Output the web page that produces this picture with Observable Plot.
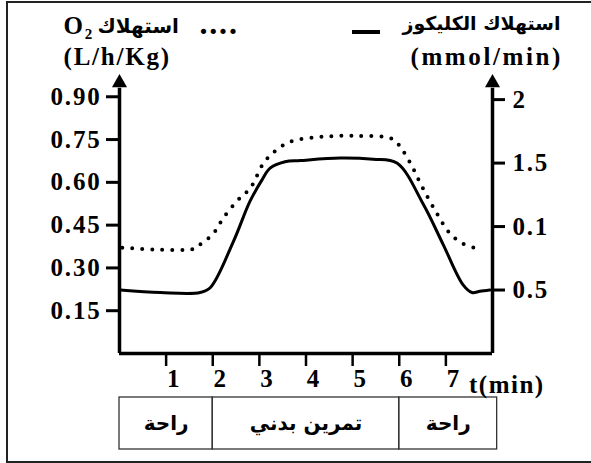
<!DOCTYPE html>
<html>
<head>
<meta charset="utf-8">
<script src="https://cdn.jsdelivr.net/npm/d3@7"></script>
<script src="https://cdn.jsdelivr.net/npm/@observablehq/plot@0.6"></script>
<style>
  html, body { margin: 0; padding: 0; background: #fff; }
  #page { position: relative; width: 591px; height: 463px; overflow: hidden; }
  #frame { position: absolute; left: 6px; top: 1px; width: 620px; height: 458px;
           border-left: 2px solid #222; border-top: 2px solid #222; border-bottom: 2px solid #222; }
  #main { position: absolute; left: 0; top: 0; }
  #phases { position: absolute; left: 0; top: 396px; }
  #swatch { position: absolute; left: 352px; top: 30px; width: 28px; height: 4px; background: #000; }
  #tlabel { position: absolute; left: 469px; top: 372px; font: bold 25px "Liberation Serif", serif;
            letter-spacing: 1.5px; line-height: 25px; color: #000; white-space: nowrap; }
</style>
</head>
<body>
<div id="page">
  <div id="frame"></div>
  <div id="phases"></div>
  <div id="main"></div>
  <div id="swatch"></div>
  <div id="tlabel"></div>
</div>
<script>
// ---- data ----
// glucose consumption (mmol/min), right axis — solid line
const glucoseT = [0.02, 0.88, 1.73, 1.95, 2.44, 2.80, 3.06, 3.23, 3.55, 3.88, 4.73, 5.44, 5.95, 6.51, 6.94, 7.37, 7.56, 7.73, 7.94];
const glucoseV = [0.50, 0.48, 0.48, 0.52, 0.88, 1.20, 1.37, 1.46, 1.51, 1.52, 1.54, 1.53, 1.50, 1.18, 0.86, 0.54, 0.48, 0.49, 0.50];
// O2 consumption (L/h/Kg), left axis — dotted line
const o2T = [0.06, 0.88, 1.63, 1.73, 2.01, 2.23, 2.53, 2.81, 3.08, 3.30, 3.66, 4.37, 5.10, 5.80, 5.95, 6.08, 6.29, 6.51, 6.81, 7.09, 7.37, 7.67, 7.79];
const o2V = [0.371, 0.364, 0.368, 0.382, 0.420, 0.476, 0.536, 0.581, 0.665, 0.704, 0.742, 0.760, 0.763, 0.756, 0.739, 0.711, 0.651, 0.578, 0.490, 0.420, 0.385, 0.368, 0.364];

const xTicks = [1, 2, 3, 4, 5, 6, 7];
const xLabel = "t(min)";
const leftTicks = [0.15, 0.30, 0.45, 0.60, 0.75, 0.90];
const leftLabels = ["0.15", "0.30", "0.45", "0.60", "0.75", "0.90"];
const rightTicks = [0.5, 1, 1.5, 2];
const rightLabels = ["0.5", "0.1", "1.5", "2"];

const phaseStart = [0, 2, 6];
const phaseEnd = [2, 6, 8.1];
const phaseNames = ["راحة", "تمرين بدني", "راحة"];

// ratio between right-axis units and left-axis units
const k = 0.445;

const glucose = glucoseT.map((t, i) => ({t, v: glucoseV[i] * k}));
const o2 = o2T.map((t, i) => ({t, v: o2V[i]}));
const phases = phaseNames.map((name, i) => ({name, x1: phaseStart[i], x2: phaseEnd[i]}));
const leftT = leftTicks.map((v, i) => ({v, label: leftLabels[i]}));
const rightT = rightTicks.map((v, i) => ({v: v * k, label: rightLabels[i]}));

const W = 591, H = 400, ML = 119, MR = 99, MT = 82, MB = 47;
const serif = "Liberation Serif, Times New Roman, DejaVu Serif, serif";
const arabic = "DejaVu Sans, sans-serif";
const tickFont = {fontSize: 25, fontWeight: "bold", fontFamily: serif, fill: "#000"};

function label(str, x, baseline, extra = {}) {
  return Plot.text([str], {
    text: d => d, frameAnchor: "top-left", dx: x - ML, dy: baseline - MT,
    lineAnchor: "bottom", textAnchor: "start", fill: "#000", fontFamily: serif, ...extra
  });
}

const main = Plot.plot({
  width: W, height: H,
  marginLeft: ML, marginRight: MR, marginTop: MT, marginBottom: MB,
  x: {domain: [0, 8]},
  y: {domain: [0, 0.95]},
  style: {background: "transparent", overflow: "visible"},
  marks: [
    Plot.axisY(leftTicks, {anchor: "left", tickSize: 13, strokeWidth: 3, tickFormat: () => "", label: null}),
    Plot.axisY(rightTicks.map(v => v * k), {anchor: "right", tickSize: 12, strokeWidth: 3, tickFormat: () => "", label: null}),
    Plot.axisX(xTicks, {anchor: "bottom", tickSize: 13, strokeWidth: 2.5, tickFormat: () => "", label: null}),
    Plot.text(leftT, {y: "v", text: "label", frameAnchor: "left", dx: -18, textAnchor: "end", ...tickFont}),
    Plot.text(rightT, {y: "v", text: "label", frameAnchor: "right", dx: 20, textAnchor: "start", ...tickFont}),
    Plot.text(xTicks, {x: d => d, text: d => String(d), frameAnchor: "bottom", dx: 8, dy: 33, ...tickFont}),
    Plot.ruleX([0, 8], {y1: 0, y2: 0.93, stroke: "#000", strokeWidth: 3.5}),
    Plot.ruleY([0], {x1: 0, x2: 8, stroke: "#000", strokeWidth: 3.5}),
    Plot.dot([0, 8], {x: d => d, y: () => 0.949, symbol: "triangle", r: 5.6, fill: "#000", stroke: "none"}),
    Plot.line(o2, {x: "t", y: "v", curve: "catmull-rom", stroke: "#000", strokeWidth: 4,
      strokeDasharray: "0 10", strokeLinecap: "round"}),
    Plot.line(glucose, {x: "t", y: "v", curve: "catmull-rom", stroke: "#000", strokeWidth: 3}),
    label("O₂", 63, 33, {fontSize: 25, fontWeight: "bold"}),
    label("استهلاك", 97, 32, {fontSize: 20, fontWeight: "bold", fontFamily: arabic}),
    label("....", 199, 33, {fontSize: 32, fontWeight: "bold"}),
    label("(L/h/Kg)", 63, 64, {fontSize: 25, fontWeight: "bold"}),
    label("استهلاك الكليكوز", 560, 29, {fontSize: 19, fontWeight: "bold", fontFamily: arabic, textAnchor: "end"}),
    label("(mmol/min)", 410, 64, {fontSize: 25, fontWeight: "bold"})
  ]
});
document.getElementById("main").appendChild(main);
// widen the Latin lettering a little, as in the picture
d3.select(main).selectAll("text")
  .filter(function () { return /^[\x20-\x7E₂]+$/.test(this.textContent); })
  .style("letter-spacing", function () { return this.textContent === "(mmol/min)" ? "2.6px" : "1.8px"; });
document.getElementById("tlabel").textContent = xLabel;

const phasePlot = Plot.plot({
  width: W, height: 54,
  marginLeft: ML, marginRight: MR, marginTop: 1, marginBottom: 1,
  x: {domain: [0, 8], axis: null},
  y: {domain: [0, 1], axis: null},
  style: {background: "transparent", overflow: "visible"},
  marks: [
    Plot.rect(phases, {x1: "x1", x2: "x2", y1: 0, y2: 1, fill: "none", stroke: "#333", strokeWidth: 1.3}),
    Plot.text(phases, {x: d => (d.x1 + d.x2) / 2, y: () => 0.5, text: "name",
      fontSize: 20, fontWeight: "bold", fontFamily: arabic, fill: "#000"})
  ]
});
document.getElementById("phases").appendChild(phasePlot);
</script>
</body>
</html>
